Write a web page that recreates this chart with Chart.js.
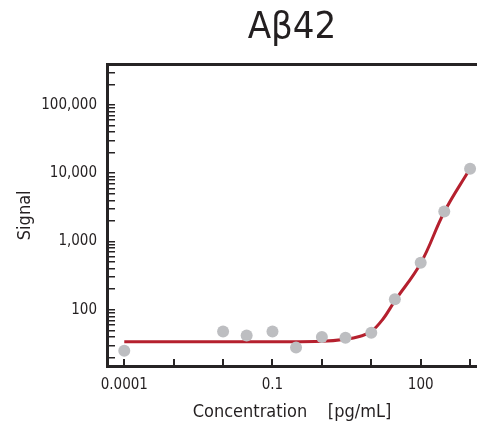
<!DOCTYPE html>
<html>
<head>
<meta charset="utf-8">
<script src="https://cdn.jsdelivr.net/npm/chart.js@4.4.1/dist/chart.umd.min.js"></script>
<style>
  html, body { margin: 0; padding: 0; background: #fff; }
  #wrap { width: 477px; height: 430px; }
</style>
</head>
<body>
<div id="wrap"><canvas id="abChart"></canvas></div>
<script>
// measured points (concentration pg/mL, signal)
const concentrations = [0.0001, 0.01, 0.03, 0.1, 0.3, 1, 3, 10, 30, 100, 300, 1000];
const signals = [25, 48, 42, 48, 28, 40, 39, 46, 143, 490, 2750, 11600];

// fitted curve
const curveX = [0.0001, 0.001, 0.01, 0.1, 1, 3, 6, 10, 17, 30, 100, 300, 1000];
const curveY = [34, 34, 34, 34, 34.5, 37, 41, 48, 72, 135, 480, 2700, 11700];

// axis ticks
const xTickValues = [0.0001, 0.001, 0.01, 0.1, 1, 10, 100, 1000];
const xTickLabels = ['0.0001', '0.1', '100'];
const yTickLabels = ['100', '1,000', '10,000', '100,000'];

const FONT = "'DejaVu Sans Condensed', 'DejaVu Sans', sans-serif";
const AXIS = '#262324';
const TEXT = '#231f20';

// log minor ticks for y: 1..9 x 10^n inside the range
const yTickValues = [];
for (let e = 1; e <= 5; e++) {
    for (let s = 1; s <= 9; s++) {
        const v = s * Math.pow(10, e);
        if (v >= 15 && v <= 390000) yTickValues.push(v);
    }
}

// no extra room for edge labels, the frame runs to the canvas edge
const noEdgePad = (s) => {
    s.paddingLeft = 0;
    s.paddingRight = 0;
    s.paddingTop = 0;
    s.paddingBottom = 0;
};

const ctx = document.getElementById('abChart').getContext('2d');
new Chart(ctx, {
    type: 'scatter',
    data: {
        datasets: [{
            label: 'data',
            data: concentrations.map((c, i) => ({x: c, y: signals[i]})),
            pointRadius: 6,
            pointHoverRadius: 6,
            pointBackgroundColor: '#bdbec1',
            pointBorderWidth: 0,
            order: 0
        }, {
            label: 'fit',
            data: curveX.map((c, i) => ({x: c, y: curveY[i]})),
            showLine: true,
            borderColor: '#b5202e',
            borderWidth: 3,
            pointRadius: 0,
            tension: 0.4,
            order: 1
        }]
    },
    options: {
        responsive: true,
        maintainAspectRatio: false,
        animation: false,
        layout: { padding: 0, autoPadding: false },
        plugins: {
            legend: { display: false },
            tooltip: { enabled: false },
            title: {
                display: true,
                text: 'Aβ42',
                fullSize: false,
                color: TEXT,
                font: { family: FONT, size: 38, weight: 'normal' },
                padding: { top: 5, bottom: 14 }
            }
        },
        scales: {
            x: {
                type: 'logarithmic',
                position: 'bottom',
                min: 4.47e-5,
                max: 1380,
                afterBuildTicks: (s) => { s.ticks = xTickValues.map(v => ({value: v})); },
                afterFit: (s) => { s.height = 64; noEdgePad(s); },
                ticks: {
                    autoSkip: false,
                    maxRotation: 0,
                    padding: 17,
                    color: TEXT,
                    font: { family: FONT, size: 15 },
                    callback: (v) => {
                        const lbl = xTickLabels.find(t => Number(t) === v);
                        return lbl || '';
                    }
                },
                grid: {
                    display: true,
                    drawOnChartArea: false,
                    drawTicks: true,
                    tickLength: -7,
                    color: AXIS,
                    lineWidth: 2
                },
                border: { display: true, color: AXIS, width: 3 },
                title: {
                    display: true,
                    text: 'Concentration    [pg/mL]',
                    color: TEXT,
                    font: { family: FONT, size: 18 },
                    padding: { top: 0, bottom: 7 }
                }
            },
            xTop: {
                type: 'logarithmic',
                position: 'top',
                min: 4.47e-5,
                max: 1380,
                afterFit: (s) => { s.height = 0; noEdgePad(s); },
                ticks: { display: false },
                grid: { display: false },
                border: { display: true, color: AXIS, width: 3 }
            },
            y: {
                type: 'logarithmic',
                position: 'left',
                min: 15,
                max: 390000,
                afterBuildTicks: (s) => { s.ticks = yTickValues.map(v => ({value: v})); },
                afterFit: (s) => { s.width = 107; noEdgePad(s); },
                ticks: {
                    autoSkip: false,
                    padding: 18,
                    color: TEXT,
                    font: { family: FONT, size: 15 },
                    callback: (v) => {
                        const lbl = yTickLabels.find(t => Number(t.replace(/,/g, '')) === v);
                        return lbl || '';
                    }
                },
                grid: {
                    display: true,
                    drawOnChartArea: false,
                    drawTicks: true,
                    tickLength: -8,
                    color: AXIS,
                    lineWidth: 1.5
                },
                border: { display: true, color: AXIS, width: 3 },
                title: {
                    display: true,
                    text: 'Signal',
                    color: TEXT,
                    font: { family: FONT, size: 18 },
                    padding: { top: 15, bottom: 0 }
                }
            }
        }
    }
});
</script>
</body>
</html>
